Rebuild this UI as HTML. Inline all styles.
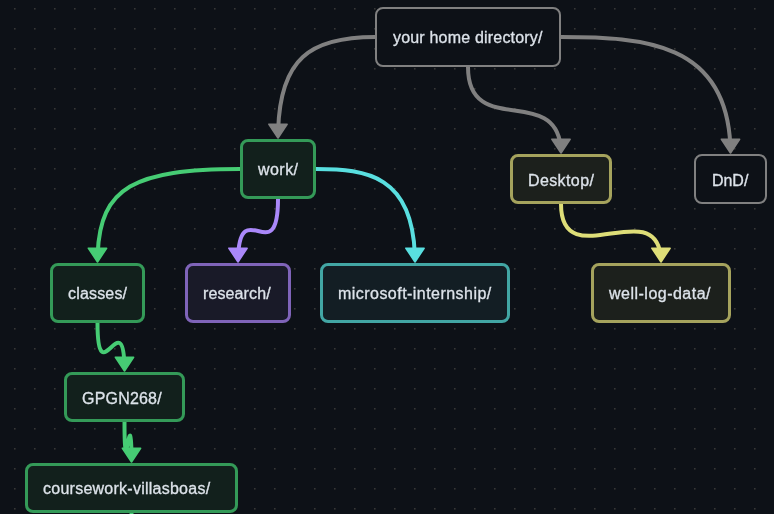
<!DOCTYPE html><html><head><meta charset="utf-8"><style>
html,body{margin:0;padding:0;width:774px;height:514px;overflow:hidden;background:#0d1117;}
svg{position:absolute;left:0;top:0;}
.n{position:absolute;box-sizing:border-box;border-style:solid;border-radius:8px;}
.t{position:absolute;font-family:"Liberation Sans",sans-serif;font-size:16px;line-height:20px;height:20px;color:#dde3ea;white-space:nowrap;will-change:transform;-webkit-font-smoothing:antialiased;-webkit-text-stroke:0.3px #dde3ea;}
</style></head><body>
<svg width="774" height="514" viewBox="0 0 774 514"><defs><pattern id="d" x="4" y="-2" width="20" height="20" patternUnits="userSpaceOnUse"><rect x="10" y="10" width="1" height="1" fill="#373837"/><rect x="11" y="10" width="1" height="1" fill="#262729"/><rect x="10" y="11" width="1" height="1" fill="#252628"/><rect x="11" y="11" width="1" height="1" fill="#1b1d21"/></pattern></defs><rect width="774" height="514" fill="url(#d)"/><path d="M375 37 C309.5 37 280.34 59.23 278.14 130" stroke="#808080" stroke-width="4" fill="none"/><path d="M268.89 124.2 L287.11 124.2 L278 137.95 Z" fill="#808080" stroke="#808080" stroke-width="1.6" stroke-linejoin="round"/><path d="M561 37 C644.03 37 725.84 42.48 730.31 145" stroke="#808080" stroke-width="4" fill="none"/><path d="M721.39 139.2 L739.61 139.2 L730.5 152.95 Z" fill="#808080" stroke="#808080" stroke-width="1.6" stroke-linejoin="round"/><path d="M468 67 C468 137.74 553 85.11 560.48 144.99" stroke="#808080" stroke-width="4" fill="none"/><path d="M551.89 139.2 L570.11 139.2 L561 152.95 Z" fill="#808080" stroke="#808080" stroke-width="1.6" stroke-linejoin="round"/><path d="M240 169 C133.85 169 100.3 187.54 97.67 253.99" stroke="#46cc74" stroke-width="4" fill="none"/><path d="M88.39 248.2 L106.61 248.2 L97.5 261.95 Z" fill="#46cc74" stroke="#46cc74" stroke-width="1.6" stroke-linejoin="round"/><path d="M316 169 C367.77 169 411.73 176.16 414.83 253.99" stroke="#59dfe0" stroke-width="4" fill="none"/><path d="M405.89 248.2 L424.11 248.2 L415 261.95 Z" fill="#59dfe0" stroke="#59dfe0" stroke-width="1.6" stroke-linejoin="round"/><path d="M278 199 C278 269.69 241.5 196.19 238.23 254" stroke="#aa88fa" stroke-width="4" fill="none"/><path d="M228.89 248.2 L247.11 248.2 L238 261.95 Z" fill="#aa88fa" stroke="#aa88fa" stroke-width="1.6" stroke-linejoin="round"/><path d="M561 204 C561 274.68 652.23 196.66 660.41 254" stroke="#dede78" stroke-width="4" fill="none"/><path d="M651.89 248.2 L670.11 248.2 L661 261.95 Z" fill="#dede78" stroke="#dede78" stroke-width="1.6" stroke-linejoin="round"/><path d="M97.5 323 C97.5 393.66 122.11 306.6 124.34 362.99" stroke="#46cc74" stroke-width="4" fill="none"/><path d="M115.39 357.2 L133.61 357.2 L124.5 370.95 Z" fill="#46cc74" stroke="#46cc74" stroke-width="1.6" stroke-linejoin="round"/><path d="M124.5 422 C124.5 492.64 130.88 398.35 131.46 454" stroke="#46cc74" stroke-width="4" fill="none"/><path d="M122.39 448.2 L140.61 448.2 L131.5 461.95 Z" fill="#46cc74" stroke="#46cc74" stroke-width="1.6" stroke-linejoin="round"/><path d="M131.5 513 C131.5 587 131.5 526 131.5 600" stroke="#46cc74" stroke-width="4" fill="none"/></svg>
<div class="n" style="left:375px;top:7px;width:186px;height:60px;border-width:2px;border-color:#808080;background:#0d1117"></div>
<div class="t" style="left:393px;top:28.2px;letter-spacing:0.19px">your home directory/</div>
<div class="n" style="left:240px;top:139px;width:76px;height:60px;border-width:3px;border-color:#349a58;background:#12201c"></div>
<div class="t" style="left:257.7px;top:160px;letter-spacing:0.45px">work/</div>
<div class="n" style="left:510px;top:154px;width:102px;height:50px;border-width:3px;border-color:#a5a35d;background:#1c201c"></div>
<div class="t" style="left:527.7px;top:170.9px;letter-spacing:0.39px">Desktop/</div>
<div class="n" style="left:694px;top:154px;width:73px;height:50px;border-width:2px;border-color:#808080;background:#0d1117"></div>
<div class="t" style="left:711.62px;top:170.5px;letter-spacing:-0.04px">DnD/</div>
<div class="n" style="left:50px;top:263px;width:95px;height:60px;border-width:3px;border-color:#349a58;background:#12201c"></div>
<div class="t" style="left:67.8px;top:284px;letter-spacing:0.18px">classes/</div>
<div class="n" style="left:185px;top:263px;width:106px;height:60px;border-width:3px;border-color:#7f64b9;background:#191a28"></div>
<div class="t" style="left:202.7px;top:284.1px;letter-spacing:0.12px">research/</div>
<div class="n" style="left:320px;top:263px;width:190px;height:60px;border-width:3px;border-color:#42a6a4;background:#131e24"></div>
<div class="t" style="left:337.75px;top:284.1px;letter-spacing:0.46px">microsoft-internship/</div>
<div class="n" style="left:591px;top:263px;width:140px;height:60px;border-width:3px;border-color:#a5a35d;background:#1c201c"></div>
<div class="t" style="left:609.45px;top:284.1px;letter-spacing:0.49px">well-log-data/</div>
<div class="n" style="left:64px;top:372px;width:121px;height:50px;border-width:3px;border-color:#349a58;background:#12201c"></div>
<div class="t" style="left:81.65px;top:389px;letter-spacing:0.19px">GPGN268/</div>
<div class="n" style="left:25px;top:463px;width:213px;height:50px;border-width:3px;border-color:#349a58;background:#12201c"></div>
<div class="t" style="left:42.65px;top:479.2px;letter-spacing:0.25px">coursework-villasboas/</div>
</body></html>
